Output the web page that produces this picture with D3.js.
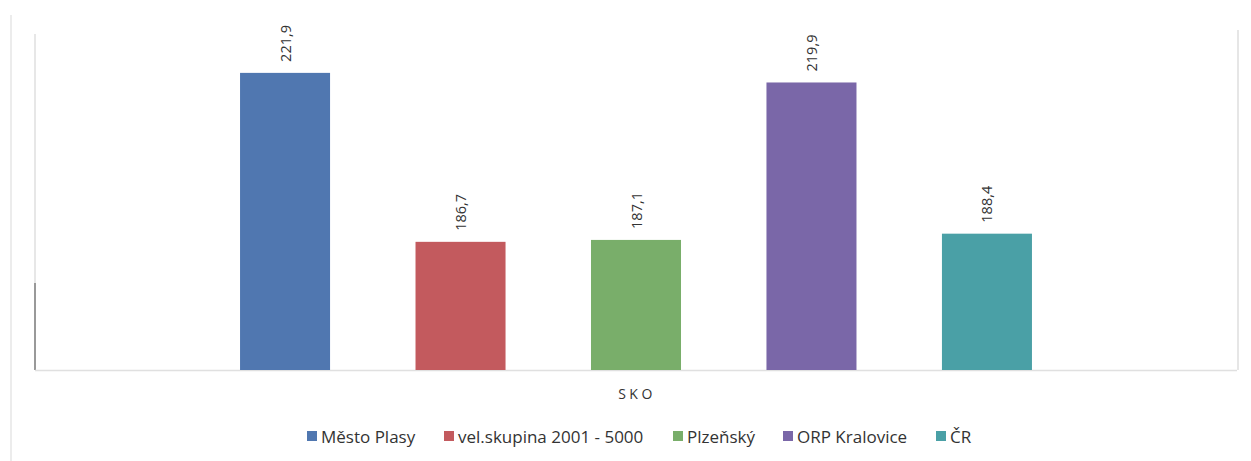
<!DOCTYPE html>
<html><head><meta charset="utf-8">
<script src="https://cdn.jsdelivr.net/npm/d3@7"></script>
<style>body{margin:0;background:#fff}svg{display:block}</style>
</head><body>
<svg id="c" width="1251" height="461"></svg>
<script>
const categories = ["SKO"];
const series = ["Město Plasy", "vel.skupina 2001 - 5000", "Plzeňský", "ORP Kralovice", "ČR"];
const values = [221.9, 186.7, 187.1, 219.9, 188.4];
const colors = ["#5077b0", "#c35a5e", "#79ae6a", "#7a67a8", "#4aa0a6"];
const yDomain = [160, 230];

(function () {
const svg = d3.select("#c");
const pLeft = 35, pRight = 1237, pTop = 34, pBottom = 370;
const y = d3.scaleLinear().domain(yDomain).range([pBottom, pTop]);
const x0 = d3.scaleBand().domain(categories).range([pLeft, pRight]).paddingOuter(0.185);
const x1 = d3.scaleBand().domain(series).range([0, x0.bandwidth()]).paddingInner(0.487).paddingOuter(0.2435);

// faint outer frame lines (scanned document look)
svg.append("line").attr("x1", 11).attr("x2", 11).attr("y1", 15).attr("y2", 461).attr("stroke", "#ececec").attr("stroke-width", 2);
svg.append("line").attr("x1", 1238).attr("x2", 1238).attr("y1", 30).attr("y2", 370).attr("stroke", "#e6e6e6").attr("stroke-width", 2);

// plot left line
svg.append("line").attr("x1", pLeft).attr("x2", pLeft).attr("y1", pTop).attr("y2", pBottom).attr("stroke", "#cfcfcf").attr("stroke-width", 1);
svg.append("line").attr("x1", pLeft).attr("x2", pLeft).attr("y1", 283).attr("y2", pBottom).attr("stroke", "#666").attr("stroke-width", 1.2);

// baseline
svg.append("line").attr("x1", pLeft).attr("x2", pRight).attr("y1", pBottom + 0.5).attr("y2", pBottom + 0.5).attr("stroke", "#e0e0e0").attr("stroke-width", 1.5);

const g = svg.append("g").attr("transform", `translate(${x0("SKO")},0)`);
g.selectAll("rect").data(values).join("rect")
  .attr("x", (d, i) => x1(series[i]))
  .attr("width", x1.bandwidth())
  .attr("y", d => y(d))
  .attr("height", d => pBottom - y(d))
  .attr("fill", (d, i) => colors[i]);

g.selectAll("text.v").data(values).join("text").attr("class", "v")
  .attr("transform", (d, i) => `translate(${x1(series[i]) + x1.bandwidth() / 2 + 5.5},${y(d) - 11}) rotate(-90)`)
  .attr("font-family", "Open Sans, sans-serif").attr("font-size", 14.5).attr("fill", "#333")
  .text(d => d.toFixed(1).replace(".", ","));

// category label
svg.append("text").attr("x", x0("SKO") + x0.bandwidth() / 2 + 1).attr("y", 399)
  .attr("text-anchor", "middle").attr("font-family", "Open Sans, sans-serif").attr("font-size", 14)
  .attr("letter-spacing", 3.5).attr("fill", "#333").text(categories[0]);

// legend
const legX = [307, 444, 673, 783, 936];
const leg = svg.append("g");
series.forEach((s, i) => {
  leg.append("rect").attr("x", legX[i]).attr("y", 431).attr("width", 10).attr("height", 10).attr("fill", colors[i]);
  leg.append("text").attr("x", legX[i] + 14).attr("y", 442.5)
    .attr("font-family", "Open Sans, sans-serif").attr("font-size", 17).attr("fill", "#333").text(s);
});
})();
</script>
</body></html>
